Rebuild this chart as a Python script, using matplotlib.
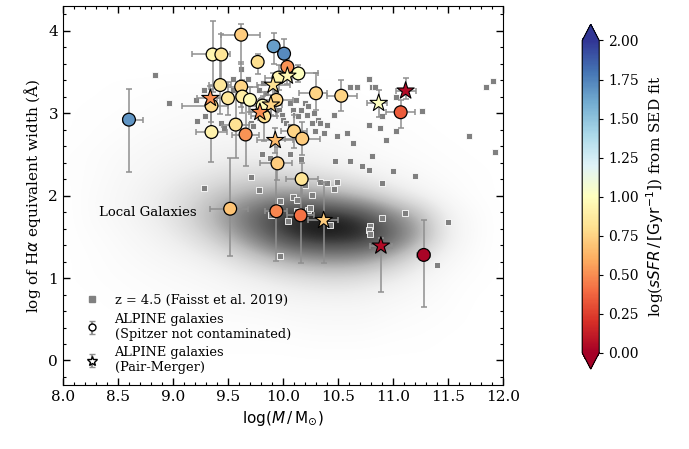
import numpy as np
import matplotlib
matplotlib.use("Agg")
import matplotlib.pyplot as plt
from matplotlib.colors import Normalize

plt.rcParams['font.family'] = 'serif'
plt.rcParams['mathtext.fontset'] = 'dejavusans'

# local galaxies density (0-100), rows from y=0.0 to y=4.0 step 0.25,
# columns x=8.0..12.0 step 0.25
local_x = np.arange(8.0, 12.01, 0.25)
local_y = np.arange(0.0, 4.01, 0.25)
local_density = np.array([
    [0, 0, 0, 0, 0, 0, 0, 0, 0, 0, 0, 0, 0, 0, 0, 0, 0],
    [0, 0, 0, 0, 0, 1, 1, 1, 1, 2, 2, 2, 1, 1, 0, 0, 0],
    [0, 0, 0, 1, 1, 2, 3, 3, 4, 5, 5, 5, 3, 2, 1, 0, 0],
    [0, 0, 1, 2, 3, 3, 5, 6, 8, 9, 10, 9, 6, 4, 2, 0, 0],
    [0, 1, 2, 3, 4, 6, 9, 13, 18, 22, 24, 21, 15, 8, 3, 1, 0],
    [0, 1, 3, 5, 8, 12, 20, 32, 44, 52, 54, 50, 38, 20, 7, 2, 0],
    [0, 2, 4, 8, 14, 24, 40, 60, 80, 90, 92, 88, 70, 45, 14, 3, 0],
    [0, 3, 6, 12, 20, 34, 52, 70, 85, 92, 90, 80, 58, 40, 12, 3, 0],
    [0, 3, 6, 11, 18, 27, 38, 46, 52, 50, 44, 34, 22, 11, 4, 1, 0],
    [1, 2, 5, 8, 12, 17, 21, 24, 24, 21, 17, 12, 7, 4, 2, 1, 0],
    [1, 2, 4, 6, 8, 10, 12, 12, 11, 9, 7, 4, 3, 2, 1, 0, 0],
    [0, 1, 2, 4, 5, 6, 7, 7, 6, 5, 4, 3, 2, 1, 0, 0, 0],
    [0, 1, 1, 2, 3, 4, 4, 4, 3, 2, 2, 1, 1, 0, 0, 0, 0],
    [0, 0, 1, 1, 2, 2, 2, 2, 1, 1, 1, 0, 0, 0, 0, 0, 0],
    [0, 0, 0, 0, 0, 0, 0, 0, 0, 0, 0, 0, 0, 0, 0, 0, 0],
    [0, 0, 0, 0, 0, 0, 0, 0, 0, 0, 0, 0, 0, 0, 0, 0, 0],
    [0, 0, 0, 0, 0, 0, 0, 0, 0, 0, 0, 0, 0, 0, 0, 0, 0],
]) / 100.0

# z = 4.5 sample (Faisst et al. 2019)
faisst_mass = [8.84, 8.96, 9.21, 9.22, 9.28, 9.29, 9.44, 9.46, 9.55, 9.55, 9.62, 9.68, 9.71,
               9.73, 9.78, 9.76, 9.79, 9.82, 9.85, 9.91, 9.94, 9.96, 9.99, 10.00, 10.03,
               10.06, 10.06, 10.09, 10.11, 10.12, 10.14, 10.16, 10.20, 10.22, 10.23, 10.26,
               10.28, 10.29, 10.32, 10.34, 10.37, 10.40, 10.46, 10.49, 10.58, 10.61, 10.64,
               10.67, 10.61, 10.47, 10.16, 9.81, 9.88, 10.06, 9.28, 10.72, 10.81, 10.78,
               10.81, 10.84, 10.94, 10.88, 10.78, 10.90, 11.03, 11.03, 11.26, 11.20, 11.00,
               10.78, 10.90, 11.69, 11.85, 11.91, 11.93, 11.40, 11.50, 9.97, 9.97, 10.09,
               10.13, 10.05, 10.13, 10.23, 10.25, 10.43, 10.79, 10.78, 10.79, 10.90, 11.11,
               9.89, 9.78, 10.20, 10.26, 10.34, 10.40, 10.46, 10.49, 9.71]
faisst_ew = [3.46, 3.12, 3.16, 2.90, 3.28, 2.96, 2.88, 2.82, 3.41, 3.28, 3.53, 3.41, 2.88,
             2.84, 3.28, 3.04, 3.16, 3.37, 3.24, 3.20, 3.28, 3.04, 2.98, 2.92, 2.88,
             3.12, 2.84, 3.04, 2.98, 3.16, 2.96, 3.04, 3.12, 2.98, 3.08, 2.88,
             3.00, 2.78, 2.92, 2.88, 2.76, 2.86, 2.98, 2.72, 2.76, 3.32, 2.64,
             3.32, 2.42, 2.42, 2.44, 2.50, 2.46, 2.50, 2.09, 2.36, 2.48, 3.41,
             3.32, 3.32, 2.67, 2.82, 2.86, 2.96, 2.78, 3.20, 3.02, 2.24, 2.30,
             2.31, 2.15, 2.72, 3.31, 3.39, 2.53, 1.16, 1.68, 1.93, 1.27, 1.98,
             1.95, 1.69, 1.81, 1.83, 1.85, 1.64, 1.63, 1.58, 1.53, 1.73, 1.79,
             1.77, 2.07, 2.13, 2.01, 2.16, 2.15, 2.08, 2.17, 2.22]

# ALPINE galaxies, Spitzer not contaminated
circ_mass = [8.60, 9.62, 9.915, 10.01, 9.36, 9.44, 9.77, 10.04, 10.14, 9.96, 9.43, 9.62,
             10.30, 10.53, 9.35, 9.50, 9.63, 9.70, 9.94, 9.815, 9.83, 9.57, 9.35, 9.66,
             10.10, 10.175, 9.95, 10.17, 9.52, 9.94, 10.16, 11.07, 11.28]
circ_ew = [2.92, 3.95, 3.81, 3.72, 3.71, 3.71, 3.62, 3.56, 3.48, 3.43, 3.34, 3.32,
           3.24, 3.21, 3.09, 3.18, 3.20, 3.16, 3.16, 3.09, 2.96, 2.86, 2.77, 2.74,
           2.78, 2.69, 2.39, 2.20, 1.84, 1.81, 1.76, 3.01, 1.28]
circ_ssfr = [1.68, 0.72, 1.65, 1.72, 0.93, 0.83, 0.80, 0.52, 1.00, 0.93, 0.85, 0.75,
             0.75, 0.75, 0.78, 0.85, 0.88, 0.97, 0.75, 0.98, 0.80, 0.82, 0.92, 0.52,
             0.75, 0.72, 0.72, 0.83, 0.68, 0.48, 0.42, 0.35, 0.02]
circ_xlo = [0.05, 0.18, 0.04, 0.04, 0.19, 0.08, 0.05, 0.05, 0.17, 0.12, 0.10, 0.15,
            0.15, 0.13, 0.27, 0.10, 0.10, 0.10, 0.15, 0.12, 0.12, 0.12, 0.14, 0.12,
            0.12, 0.16, 0.16, 0.14, 0.18, 0.10, 0.12, 0.13, 0.06]
circ_xhi = [0.13, 0.17, 0.04, 0.04, 0.08, 0.08, 0.05, 0.05, 0.175, 0.12, 0.10, 0.15,
            0.10, 0.14, 0.15, 0.10, 0.10, 0.10, 0.15, 0.12, 0.12, 0.12, 0.14, 0.12,
            0.12, 0.16, 0.13, 0.15, 0.16, 0.10, 0.12, 0.13, 0.06]
circ_ylo = [0.64, 0.35, 0.22, 0.15, 0.45, 0.40, 0.15, 0.10, 0.10, 0.15, 0.35, 0.25,
            0.20, 0.18, 0.20, 0.20, 0.20, 0.15, 0.20, 0.12, 0.30, 0.40, 0.36, 0.38,
            0.20, 0.20, 0.20, 0.20, 0.57, 0.60, 0.58, 0.19, 0.63]
circ_yhi = [0.37, 0.13, 0.16, 0.18, 0.41, 0.25, 0.10, 0.10, 0.10, 0.15, 0.30, 0.30,
            0.24, 0.19, 0.20, 0.20, 0.20, 0.15, 0.20, 0.12, 0.30, 0.42, 0.36, 0.38,
            0.20, 0.20, 0.20, 0.20, 0.62, 0.55, 0.50, 0.15, 0.42]

# ALPINE galaxies, pair-merger
star_mass = [10.04, 9.91, 9.34, 9.89, 9.79, 9.93, 10.87, 11.115, 10.37, 10.89]
star_ew = [3.45, 3.34, 3.18, 3.10, 3.01, 2.67, 3.12, 3.27, 1.70, 1.39]
star_ssfr = [0.95, 0.82, 0.50, 0.75, 0.50, 0.65, 1.00, 0.05, 0.72, 0.05]
star_xlo = [0.08, 0.15, 0.12, 0.10, 0.10, 0.17, 0.11, 0.09, 0.14, 0.10]
star_xhi = [0.08, 0.15, 0.12, 0.10, 0.10, 0.16, 0.08, 0.09, 0.13, 0.10]
star_ylo = [0.10, 0.15, 0.15, 0.12, 0.10, 0.15, 0.17, 0.10, 0.52, 0.56]
star_yhi = [0.10, 0.15, 0.15, 0.12, 0.10, 0.15, 0.165, 0.16, 0.47, 0.10]

cmap = plt.get_cmap('RdYlBu')
norm = Normalize(vmin=0, vmax=2)
err_col = '#8f8f8f'

fig = plt.figure(figsize=(6.89, 4.49), dpi=100)
ax = fig.add_axes([0.0914, 0.142, 0.6386, 0.845])

ax.imshow(local_density, origin='lower', cmap='Greys', vmin=0, vmax=1.0,
          extent=[local_x[0] - 0.125, local_x[-1] + 0.125, local_y[0] - 0.125, local_y[-1] + 0.125],
          aspect='auto', interpolation='bicubic', zorder=0)

ax.plot(faisst_mass, faisst_ew, 's', color='#808080', mec='white', mew=0.6, ms=4, zorder=2)

ax.errorbar(circ_mass, circ_ew, xerr=[circ_xlo, circ_xhi], yerr=[circ_ylo, circ_yhi],
            fmt='none', ecolor=err_col, elinewidth=1.1, capsize=2.5, capthick=1.1, zorder=3)
ax.errorbar(star_mass, star_ew, xerr=[star_xlo, star_xhi], yerr=[star_ylo, star_yhi],
            fmt='none', ecolor=err_col, elinewidth=1.1, capsize=2.5, capthick=1.1, zorder=3)
sc = ax.scatter(circ_mass, circ_ew, c=circ_ssfr, cmap=cmap, norm=norm, s=85,
                edgecolors='k', linewidths=0.9, zorder=4)
ax.scatter(star_mass, star_ew, c=star_ssfr, cmap=cmap, norm=norm, s=170, marker='*',
           edgecolors='k', linewidths=0.8, zorder=5)

ax.text(8.33, 1.80, 'Local Galaxies', fontsize=9.5, va='center', zorder=6)

# legend proxies
h1, = ax.plot([np.nan], [np.nan], 's', color='#808080', ms=4)
h2 = ax.errorbar([np.nan], [np.nan], yerr=[0.1], fmt='o', mfc='white', mec='k', ms=5,
                 ecolor=err_col, capsize=2)
h3 = ax.errorbar([np.nan], [np.nan], yerr=[0.1], fmt='*', mfc='white', mec='k', ms=7,
                 ecolor=err_col, capsize=2)
ax.legend([h1, h2, h3], ['z = 4.5 (Faisst et al. 2019)',
                         'ALPINE galaxies\n(Spitzer not contaminated)',
                         'ALPINE galaxies\n(Pair-Merger)'],
          loc='lower left', bbox_to_anchor=(0.032, 0.015), borderaxespad=0,
          frameon=False, fontsize=9.3, handlelength=1.5,
          handletextpad=1.0, labelspacing=0.45)

ax.set_xlim(8.0, 12.0)
ax.set_ylim(-0.3, 4.3)
ax.set_xticks(np.arange(8.0, 12.01, 0.5))
ax.set_yticks([0, 1, 2, 3, 4])
ax.set_xticks(np.arange(8.0, 12.01, 0.1), minor=True)
ax.set_yticks(np.arange(-0.2, 4.3, 0.2), minor=True)
ax.tick_params(which='both', direction='in', top=True, right=True, labelsize=11)
ax.tick_params(which='major', length=5, width=1)
ax.tick_params(which='minor', length=2.5, width=0.8)
ax.set_xlabel(r'$\log(M\,/\,\mathrm{M}_{\odot})$', fontsize=11)
ax.set_ylabel(r'log of H$\alpha$ equivalent width (Å)', fontsize=11)

cax = fig.add_axes([0.845, 0.178, 0.0247, 0.768])
cb = fig.colorbar(sc, cax=cax, extend='both', extendfrac=0.052)
cb.set_ticks(np.arange(0, 2.01, 0.25))
cb.ax.yaxis.set_major_formatter(matplotlib.ticker.FormatStrFormatter('%.2f'))
cb.ax.tick_params(labelsize=10, length=3)
cb.set_label(r'log($sSFR\,/\,[\mathrm{Gyr}^{-1}]$) from SED fit', fontsize=11)

fig.savefig('out.png', dpi=100)
